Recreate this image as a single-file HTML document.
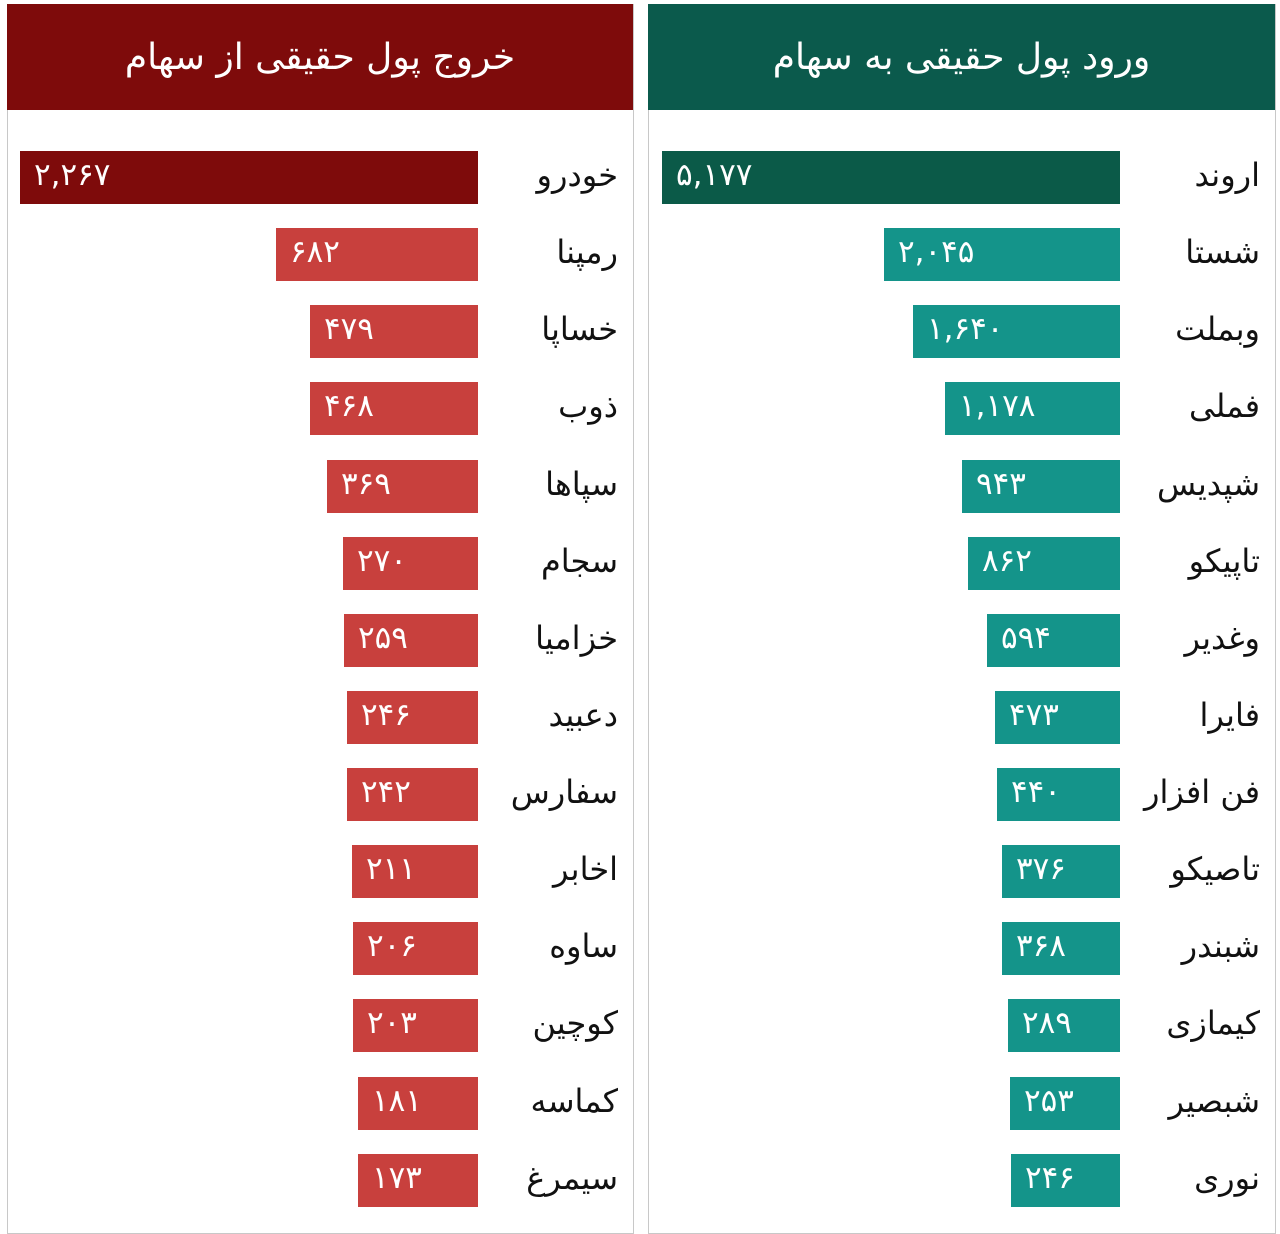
<!DOCTYPE html><html><head><meta charset="utf-8"><style>
body{margin:0;width:1280px;height:1222px;background:#fff;position:relative;overflow:hidden;font-family:"DejaVu Sans","Noto Sans CJK SC",sans-serif}
.p{position:absolute;top:4px;height:1230px;border:1px solid #c8c8c8;box-sizing:border-box}
.h{position:absolute;top:4px;height:106px;color:#fff;font-size:36px;display:flex;align-items:center;justify-content:center;direction:rtl}
.b{position:absolute;height:53px;color:#fff;font-size:31px;line-height:48px;padding-left:14px;box-sizing:border-box;direction:ltr}
.l{position:absolute;height:53px;line-height:48px;font-size:32px;color:#111;direction:rtl;text-align:right;width:140px}
.r{background:#c8403d}.g{background:#14948a}
</style></head><body>
<div class="p" style="left:7px;width:627px"></div>
<div class="p" style="left:648px;width:628px"></div>
<div class="h" style="left:7px;width:626px;background:#7e0b0b">خروج پول حقیقی از سهام</div>
<div class="h" style="left:648px;width:627px;background:#0b5a4c">ورود پول حقیقی به سهام</div>

<div class="b" style="left:20px;width:458px;top:151px;background:#7e0b0b">۲,۲۶۷</div><div class="l" style="left:478px;top:151px">خودرو</div>
<div class="b r" style="left:276px;width:202px;top:228px">۶۸۲</div><div class="l" style="left:478px;top:228px">رمپنا</div>
<div class="b r" style="left:310px;width:168px;top:305px">۴۷۹</div><div class="l" style="left:478px;top:305px">خساپا</div>
<div class="b r" style="left:310px;width:168px;top:382px">۴۶۸</div><div class="l" style="left:478px;top:382px">ذوب</div>
<div class="b r" style="left:327px;width:151px;top:460px">۳۶۹</div><div class="l" style="left:478px;top:460px">سپاها</div>
<div class="b r" style="left:343px;width:135px;top:537px">۲۷۰</div><div class="l" style="left:478px;top:537px">سجام</div>
<div class="b r" style="left:344px;width:134px;top:614px">۲۵۹</div><div class="l" style="left:478px;top:614px">خزامیا</div>
<div class="b r" style="left:347px;width:131px;top:691px">۲۴۶</div><div class="l" style="left:478px;top:691px">دعبید</div>
<div class="b r" style="left:347px;width:131px;top:768px">۲۴۲</div><div class="l" style="left:478px;top:768px">سفارس</div>
<div class="b r" style="left:352px;width:126px;top:845px">۲۱۱</div><div class="l" style="left:478px;top:845px">اخابر</div>
<div class="b r" style="left:353px;width:125px;top:922px">۲۰۶</div><div class="l" style="left:478px;top:922px">ساوه</div>
<div class="b r" style="left:353px;width:125px;top:999px">۲۰۳</div><div class="l" style="left:478px;top:999px">کوچین</div>
<div class="b r" style="left:358px;width:120px;top:1077px">۱۸۱</div><div class="l" style="left:478px;top:1077px">کماسه</div>
<div class="b r" style="left:358px;width:120px;top:1154px">۱۷۳</div><div class="l" style="left:478px;top:1154px">سیمرغ</div>

<div class="b" style="left:662px;width:458px;top:151px;background:#0b5a48">۵,۱۷۷</div><div class="l" style="left:1120px;top:151px">اروند</div>
<div class="b g" style="left:884px;width:236px;top:228px">۲,۰۴۵</div><div class="l" style="left:1120px;top:228px">شستا</div>
<div class="b g" style="left:913px;width:207px;top:305px">۱,۶۴۰</div><div class="l" style="left:1120px;top:305px">وبملت</div>
<div class="b g" style="left:945px;width:175px;top:382px">۱,۱۷۸</div><div class="l" style="left:1120px;top:382px">فملی</div>
<div class="b g" style="left:962px;width:158px;top:460px">۹۴۳</div><div class="l" style="left:1120px;top:460px">شپدیس</div>
<div class="b g" style="left:968px;width:152px;top:537px">۸۶۲</div><div class="l" style="left:1120px;top:537px">تاپیکو</div>
<div class="b g" style="left:987px;width:133px;top:614px">۵۹۴</div><div class="l" style="left:1120px;top:614px">وغدیر</div>
<div class="b g" style="left:995px;width:125px;top:691px">۴۷۳</div><div class="l" style="left:1120px;top:691px">فایرا</div>
<div class="b g" style="left:997px;width:123px;top:768px">۴۴۰</div><div class="l" style="left:1120px;top:768px">فن افزار</div>
<div class="b g" style="left:1002px;width:118px;top:845px">۳۷۶</div><div class="l" style="left:1120px;top:845px">تاصیکو</div>
<div class="b g" style="left:1002px;width:118px;top:922px">۳۶۸</div><div class="l" style="left:1120px;top:922px">شبندر</div>
<div class="b g" style="left:1008px;width:112px;top:999px">۲۸۹</div><div class="l" style="left:1120px;top:999px">کیمازی</div>
<div class="b g" style="left:1010px;width:110px;top:1077px">۲۵۳</div><div class="l" style="left:1120px;top:1077px">شبصیر</div>
<div class="b g" style="left:1011px;width:109px;top:1154px">۲۴۶</div><div class="l" style="left:1120px;top:1154px">نوری</div>
</body></html>
